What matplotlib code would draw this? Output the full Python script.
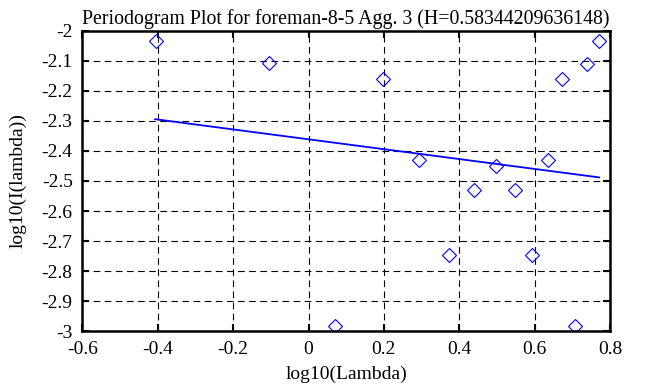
import numpy as np
import matplotlib
matplotlib.use('Agg')
import matplotlib.pyplot as plt

### Periodogram points (log10 lambda, log10 I(lambda))
logx = [-0.406, -0.106, 0.071, 0.197, 0.292, 0.372, 0.438, 0.497,
        0.547, 0.594, 0.635, 0.672, 0.708, 0.739, 0.770]
logy = [-2.032, -2.108, -2.982, -2.159, -2.430, -2.748, -2.531, -2.450,
        -2.531, -2.748, -2.430, -2.159, -2.982, -2.110, -2.032]
### Fitted line end points
fitx = [-0.407, 0.771]
fity = [-2.294, -2.488]
xticks = [-0.6, -0.4, -0.2, 0, 0.2, 0.4, 0.6, 0.8]
yticks = [-3, -2.9, -2.8, -2.7, -2.6, -2.5, -2.4, -2.3, -2.2, -2.1, -2]
title = 'Periodogram Plot for foreman-8-5 Agg. 3 (H=0.58344209636148)'

plt.rcParams['font.family'] = 'Liberation Serif'
plt.rcParams['font.size'] = 14

f = plt.figure(figsize=(6.53, 3.87), dpi=100)
ax = f.add_axes([0.1262, 0.1447, 0.9342 - 0.1262, 0.9199 - 0.1447])

ax.plot(logx, logy, linestyle='none', marker='D', ms=7, mfc='none',
        mec='blue', mew=0.8)
ax.plot(fitx, fity, color='blue', lw=1.3)

ax.set_xlim(-0.6, 0.8)
ax.set_ylim(-3, -2)
ax.set_xticks(xticks)
ax.set_yticks(yticks)
ax.set_xticklabels(['{:g}'.format(v) for v in xticks])
ax.set_yticklabels(['{:g}'.format(v) for v in yticks])
ax.grid(True, color='black', linestyle=(0, (6, 4)), lw=0.8)
ax.tick_params(direction='in', length=5, width=1.5, top=True, right=True,
               pad=7)
for s in ax.spines.values():
    s.set_linewidth(1.8)

ax.set_xlabel('log10(Lambda)', labelpad=6)
ax.set_ylabel('log10(I(lambda))', labelpad=11)
ax.set_title(title, fontsize=14.3, pad=5)

f.savefig('out.png', dpi=100)
